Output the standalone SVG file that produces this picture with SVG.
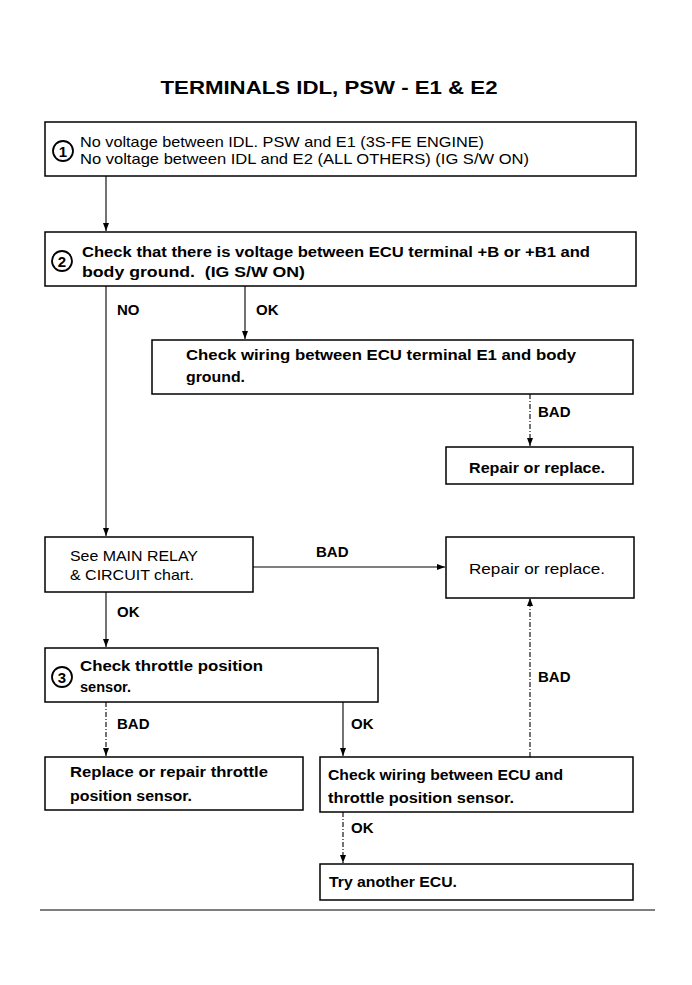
<svg xmlns="http://www.w3.org/2000/svg" width="692" height="985" viewBox="0 0 692 985">
<defs>
<style>
.box{fill:#fff;stroke:#000;stroke-width:1.5}
.t{font-family:"Liberation Sans",Arial,sans-serif;font-size:14.5px;fill:#000}
.b{font-weight:bold}
.lbl{font-family:"Liberation Sans",Arial,sans-serif;font-size:15px;font-weight:bold;fill:#000}
.c{fill:none;stroke:#000;stroke-width:1.1}
.d{stroke-dasharray:5 2 1 2}
.num{fill:#fff;stroke:#000;stroke-width:1.8}
.nt{font-family:"Liberation Sans",Arial,sans-serif;font-size:15px;font-weight:bold;text-anchor:middle}
</style>
<marker id="ah" viewBox="0 0 8 10" refX="8" refY="5" markerWidth="8" markerHeight="10" markerUnits="userSpaceOnUse" orient="auto">
<path d="M0,2 L8,5 L0,8 z" fill="#000"/>
</marker>
</defs>
<rect width="692" height="985" fill="#fff"/>
<text x="329" y="94" text-anchor="middle" font-family="'Liberation Sans',Arial,sans-serif" font-size="18.5" font-weight="bold" textLength="337" lengthAdjust="spacingAndGlyphs">TERMINALS IDL, PSW - E1 &amp; E2</text>

<g id="connectors">
<line class="c" x1="106" y1="176" x2="106" y2="231" marker-end="url(#ah)"/>
<line class="c" x1="106" y1="286" x2="106" y2="536" marker-end="url(#ah)"/>
<line class="c" x1="245" y1="286" x2="245" y2="339" marker-end="url(#ah)"/>
<line class="c d" x1="530" y1="394" x2="530" y2="446" marker-end="url(#ah)"/>
<line class="c" x1="253" y1="567" x2="445" y2="567" marker-end="url(#ah)"/>
<line class="c" x1="106" y1="592" x2="106" y2="647" marker-end="url(#ah)"/>
<line class="c d" x1="106" y1="702" x2="106" y2="756" marker-end="url(#ah)"/>
<line class="c" x1="343" y1="702" x2="343" y2="756" marker-end="url(#ah)"/>
<line class="c d" x1="530" y1="757" x2="530" y2="598" marker-end="url(#ah)"/>
<line class="c d" x1="343" y1="812" x2="343" y2="863" marker-end="url(#ah)"/>
<text class="lbl" x="117" y="315">NO</text>
<text class="lbl" x="256" y="315">OK</text>
<text class="lbl" x="538" y="417">BAD</text>
<text class="lbl" x="316" y="557">BAD</text>
<text class="lbl" x="117" y="617">OK</text>
<text class="lbl" x="117" y="729">BAD</text>
<text class="lbl" x="351" y="729">OK</text>
<text class="lbl" x="538" y="682">BAD</text>
<text class="lbl" x="351" y="833">OK</text>
</g>

<g id="n1">
<rect class="box" x="45" y="122" width="591" height="54"/>
<circle class="num" cx="63" cy="151" r="10"/>
<text class="nt" x="63" y="156.5">1</text>
<text class="t" x="80" y="147" textLength="404" lengthAdjust="spacingAndGlyphs">No voltage between IDL. PSW and E1 (3S-FE ENGINE)</text>
<text class="t" x="80" y="164" textLength="449" lengthAdjust="spacingAndGlyphs">No voltage between IDL and E2 (ALL OTHERS) (IG S/W ON)</text>
</g>

<g id="n2">
<rect class="box" x="45" y="232" width="591" height="54"/>
<circle class="num" cx="62" cy="261" r="10"/>
<text class="nt" x="62" y="266.5">2</text>
<text class="t b" x="82" y="257" textLength="508" lengthAdjust="spacingAndGlyphs">Check that there is voltage between ECU terminal +B or +B1 and</text>
<text class="t b" x="82" y="277" textLength="223" lengthAdjust="spacingAndGlyphs" xml:space="preserve">body ground.  (IG S/W ON)</text>
</g>

<g id="n3">
<rect class="box" x="152" y="340" width="481" height="54"/>
<text class="t b" x="186" y="360" textLength="390" lengthAdjust="spacingAndGlyphs">Check wiring between ECU terminal E1 and body</text>
<text class="t b" x="186" y="382" textLength="59" lengthAdjust="spacingAndGlyphs">ground.</text>
</g>

<g id="n4">
<rect class="box" x="446" y="447" width="187" height="37"/>
<text class="t b" x="469" y="473" textLength="136" lengthAdjust="spacingAndGlyphs">Repair or replace.</text>
</g>

<g id="n5">
<rect class="box" x="45" y="537" width="208" height="55"/>
<text class="t" x="70" y="561" textLength="128" lengthAdjust="spacingAndGlyphs">See MAIN RELAY</text>
<text class="t" x="70" y="580" textLength="124" lengthAdjust="spacingAndGlyphs">&amp; CIRCUIT chart.</text>
</g>

<g id="n6">
<rect class="box" x="446" y="537" width="188" height="61"/>
<text class="t" x="469" y="574" textLength="136" lengthAdjust="spacingAndGlyphs">Repair or replace.</text>
</g>

<g id="n7">
<rect class="box" x="45" y="648" width="333" height="54"/>
<circle class="num" cx="62" cy="677" r="10"/>
<text class="nt" x="62" y="682.5">3</text>
<text class="t b" x="80" y="671" textLength="183" lengthAdjust="spacingAndGlyphs">Check throttle position</text>
<text class="t b" x="80" y="692" textLength="51" lengthAdjust="spacingAndGlyphs">sensor.</text>
</g>

<g id="n8">
<rect class="box" x="45" y="757" width="258" height="53"/>
<text class="t b" x="70" y="777" textLength="198" lengthAdjust="spacingAndGlyphs">Replace or repair throttle</text>
<text class="t b" x="70" y="801" textLength="122" lengthAdjust="spacingAndGlyphs">position sensor.</text>
</g>

<g id="n9">
<rect class="box" x="320" y="757" width="313" height="55"/>
<text class="t b" x="328" y="780" textLength="235" lengthAdjust="spacingAndGlyphs">Check wiring between ECU and</text>
<text class="t b" x="328" y="803" textLength="186" lengthAdjust="spacingAndGlyphs">throttle position sensor.</text>
</g>

<g id="n10">
<rect class="box" x="320" y="864" width="313" height="36"/>
<text class="t b" x="329" y="887" textLength="128" lengthAdjust="spacingAndGlyphs">Try another ECU.</text>
</g>

<line x1="40" y1="910" x2="655" y2="910" stroke="#000" stroke-width="1.2"/>
</svg>
